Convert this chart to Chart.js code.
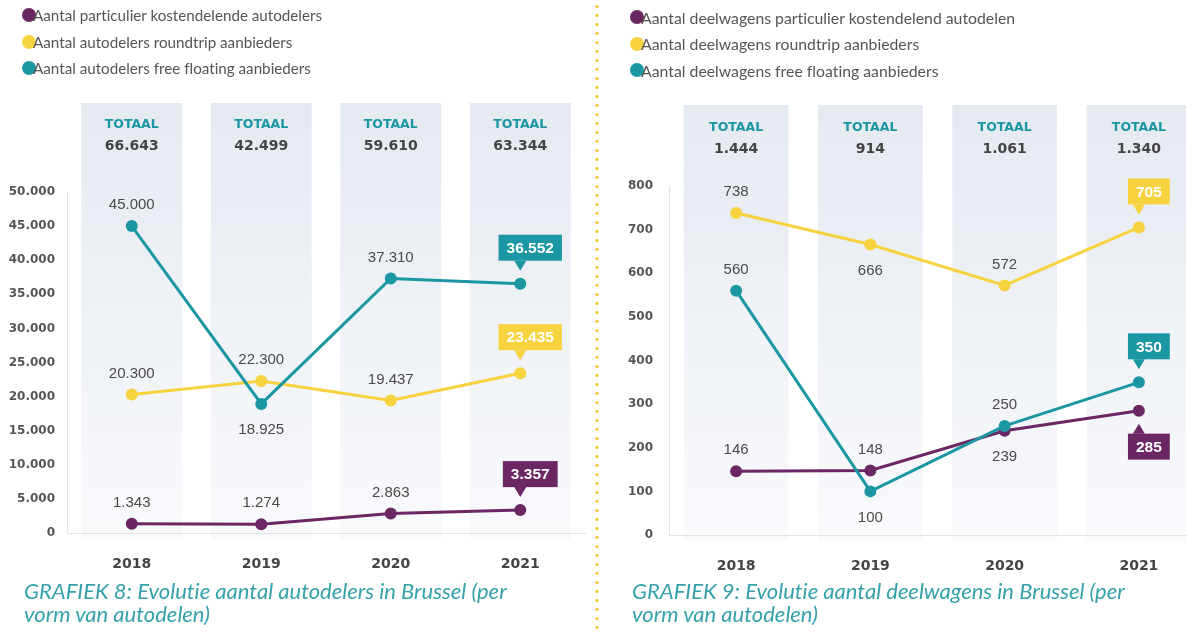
<!DOCTYPE html>
<html>
<head>
<meta charset="utf-8">
<script src="https://cdn.jsdelivr.net/npm/chart.js@4.4.1/dist/chart.umd.min.js"></script>
<style>
  html, body { margin: 0; padding: 0; background: #fff; }
  body { width: 1186px; height: 634px; overflow: hidden; position: relative; font-family: Lato, sans-serif; font-variant-ligatures: none; }
  .panel { position: absolute; top: 0; }
  .legend { position: absolute; color: #555; }
  .legend div { height: 26.5px; display: flex; align-items: center; white-space: nowrap; }
  .legend .dot { display: inline-block; width: 14px; height: 14px; border-radius: 50%; margin-right: -3px; }
  .caption { position: absolute; font-style: italic; font-size: 22px; line-height: 23px; color: #35a2ab; white-space: nowrap; }
  .divider { position: absolute; left: 595px; top: 0; width: 4px; height: 634px;
    background: radial-gradient(circle, #f3d03a 1.4px, transparent 1.9px) 0 2px / 4px 9px repeat-y; }
</style>
</head>
<body>
<div class="panel" style="left:0"><canvas id="autodelers" width="597" height="634"></canvas></div>
<div class="panel" style="left:600px"><canvas id="deelwagens" width="612" height="634"></canvas></div>
<div class="divider"></div>
<div class="legend" id="legend8" style="left:22px; top:2px; font-size:15.2px"></div>
<div class="legend" id="legend9" style="left:630px; top:4px; font-size:15.8px"></div>
<div class="caption" style="left:24px; top:579px">GRAFIEK 8: Evolutie aantal autodelers in Brussel (per<br>vorm van autodelen)</div>
<div class="caption" style="left:632px; top:579px">GRAFIEK 9: Evolutie aantal deelwagens in Brussel (per<br>vorm van autodelen)</div>

<script>
const years = ['2018', '2019', '2020', '2021'];

// grafiek 8: autodelers
const autodelersParticulier = [1343, 1274, 2863, 3357];
const autodelersRoundtrip = [20300, 22300, 19437, 23435];
const autodelersFreeFloating = [45000, 18925, 37310, 36552];
const autodelersTicks = [0, 5000, 10000, 15000, 20000, 25000, 30000, 35000, 40000, 45000, 50000];

// grafiek 9: deelwagens
const deelwagensParticulier = [146, 148, 239, 285];
const deelwagensRoundtrip = [738, 666, 572, 705];
const deelwagensFreeFloating = [560, 100, 250, 350];
const deelwagensTicks = [0, 100, 200, 300, 400, 500, 600, 700, 800];

const PURPLE = '#6b2763';
const YELLOW = '#f6d33f';
const TEAL = '#1a97a3';

// 12345 -> "12.345"
function fmt(n) {
  return String(n).replace(/\B(?=(\d{3})+(?!\d))/g, '.');
}

function series(label, data, color, order, placement) {
  return {
    label, data, order, placement,
    borderColor: color,
    backgroundColor: color,
    pointBackgroundColor: color,
    borderWidth: 3,
    pointRadius: 6,
    pointHoverRadius: 6,
    pointBorderWidth: 0,
    tension: 0
  };
}

// shaded year columns, totals on top, value labels and callouts
const decor = {
  id: 'decor',
  beforeDraw(chart, args, opts) {
    const { ctx, chartArea } = chart;
    const x = chart.scales.x;
    const step = x.getPixelForValue(1) - x.getPixelForValue(0);
    const bw = step * 0.78;
    ctx.save();
    chart.data.labels.forEach((lab, i) => {
      const cx = x.getPixelForValue(i);
      const bottom = chartArea.bottom + 6;
      const g = ctx.createLinearGradient(0, opts.bandTop, 0, bottom);
      g.addColorStop(0, '#e5eaf1');
      g.addColorStop(1, '#f9fafc');
      ctx.fillStyle = g;
      ctx.fillRect(cx - bw / 2, opts.bandTop, bw, bottom - opts.bandTop);

      const total = chart.data.datasets.reduce((s, d) => s + d.data[i], 0);
      ctx.textAlign = 'center';
      ctx.textBaseline = 'middle';
      ctx.fillStyle = TEAL;
      ctx.font = 'bold 12.5px "DejaVu Sans"';
      ctx.fillText('TOTAAL', cx, opts.totalY);
      ctx.fillStyle = '#444';
      ctx.font = 'bold 14px "DejaVu Sans"';
      ctx.fillText(fmt(total), cx, opts.totalY + 21);
    });
    ctx.restore();
  },
  afterDatasetsDraw(chart) {
    const { ctx } = chart;
    ctx.save();
    ctx.textAlign = 'center';
    ctx.textBaseline = 'middle';
    chart.data.datasets.forEach((ds, di) => {
      const meta = chart.getDatasetMeta(di);
      meta.data.forEach((pt, i) => {
        const place = ds.placement[i];
        const txt = fmt(ds.data[i]);
        if (place === 'above' || place === 'below') {
          ctx.font = '15px "Liberation Sans"';
          ctx.fillStyle = '#4a4a4a';
          ctx.fillText(txt, pt.x, place === 'above' ? pt.y - 21 : pt.y + 26);
          return;
        }
        // callout box with a small pointer towards the point
        ctx.font = 'bold 15.5px "Liberation Sans"';
        const w = ctx.measureText(txt).width + 16;
        const h = 26, tip = 10, gap = 13;
        const bx = pt.x + 10 - w / 2;
        const dir = place === 'callout-up' ? -1 : 1;
        const tipY = pt.y + dir * gap;
        const baseY = tipY + dir * tip;
        const by = dir < 0 ? baseY - h : baseY;
        ctx.fillStyle = ds.borderColor;
        ctx.fillRect(bx, by, w, h);
        ctx.beginPath();
        ctx.moveTo(pt.x - 6, baseY);
        ctx.lineTo(pt.x, tipY);
        ctx.lineTo(pt.x + 6, baseY);
        ctx.closePath();
        ctx.fill();
        ctx.fillStyle = '#fff';
        ctx.fillText(txt, bx + w / 2, by + h / 2 + 1);
      });
    });
    ctx.restore();
  }
};

function makeChart(id, datasets, ticks, geo) {
  return new Chart(document.getElementById(id), {
    type: 'line',
    data: { labels: years, datasets },
    plugins: [decor],
    options: {
      responsive: false,
      animation: false,
      devicePixelRatio: 1,
      layout: { padding: { top: geo.top, bottom: geo.bottom, left: 0, right: geo.right } },
      plugins: {
        legend: { display: false },
        tooltip: { enabled: false },
        decor: { bandTop: geo.bandTop, totalY: geo.totalY }
      },
      scales: {
        x: {
          offset: true,
          grid: { display: false, drawTicks: false },
          border: { display: true, color: '#e4e4e4' },
          ticks: { padding: 23, color: '#444', font: { family: 'DejaVu Sans', weight: 'bold', size: 14 } },
          afterFit(s) { s.height = 50; }
        },
        y: {
          min: ticks[0],
          max: ticks[ticks.length - 1],
          afterBuildTicks(s) { s.ticks = ticks.map(v => ({ value: v })); },
          afterFit(s) { s.width = geo.axisWidth; },
          grid: { display: true, drawOnChartArea: false, drawTicks: false },
          border: { display: true, color: '#e4e4e4' },
          ticks: {
            padding: geo.tickPad,
            color: '#555',
            font: { family: 'DejaVu Sans', weight: 'bold', size: 12 },
            callback: v => fmt(v)
          }
        }
      }
    }
  });
}

const chart8 = makeChart('autodelers', [
  series('Aantal particulier kostendelende autodelers', autodelersParticulier, PURPLE, 3, ['above', 'above', 'above', 'callout-up']),
  series('Aantal autodelers roundtrip aanbieders', autodelersRoundtrip, YELLOW, 2, ['above', 'above', 'above', 'callout-up']),
  series('Aantal autodelers free floating aanbieders', autodelersFreeFloating, TEAL, 1, ['above', 'below', 'above', 'callout-up'])
], autodelersTicks, { top: 192, bottom: 51, right: 12, axisWidth: 67, tickPad: 12, bandTop: 103, totalY: 125 });

const chart9 = makeChart('deelwagens', [
  series('Aantal deelwagens particulier kostendelend autodelen', deelwagensParticulier, PURPLE, 3, ['above', 'above', 'below', 'callout-down']),
  series('Aantal deelwagens roundtrip aanbieders', deelwagensRoundtrip, YELLOW, 2, ['above', 'below', 'above', 'callout-up']),
  series('Aantal deelwagens free floating aanbieders', deelwagensFreeFloating, TEAL, 1, ['above', 'below', 'above', 'callout-up'])
], deelwagensTicks, { top: 186, bottom: 49, right: 3, axisWidth: 69, tickPad: 16, bandTop: 105, totalY: 128 });

// legends built from the dataset labels
function buildLegend(chart, el) {
  chart.data.datasets.forEach(ds => {
    const row = document.createElement('div');
    const dot = document.createElement('span');
    dot.className = 'dot';
    dot.style.background = ds.borderColor;
    row.appendChild(dot);
    row.appendChild(document.createTextNode(ds.label));
    el.appendChild(row);
  });
}
buildLegend(chart8, document.getElementById('legend8'));
buildLegend(chart9, document.getElementById('legend9'));
</script>
</body>
</html>
